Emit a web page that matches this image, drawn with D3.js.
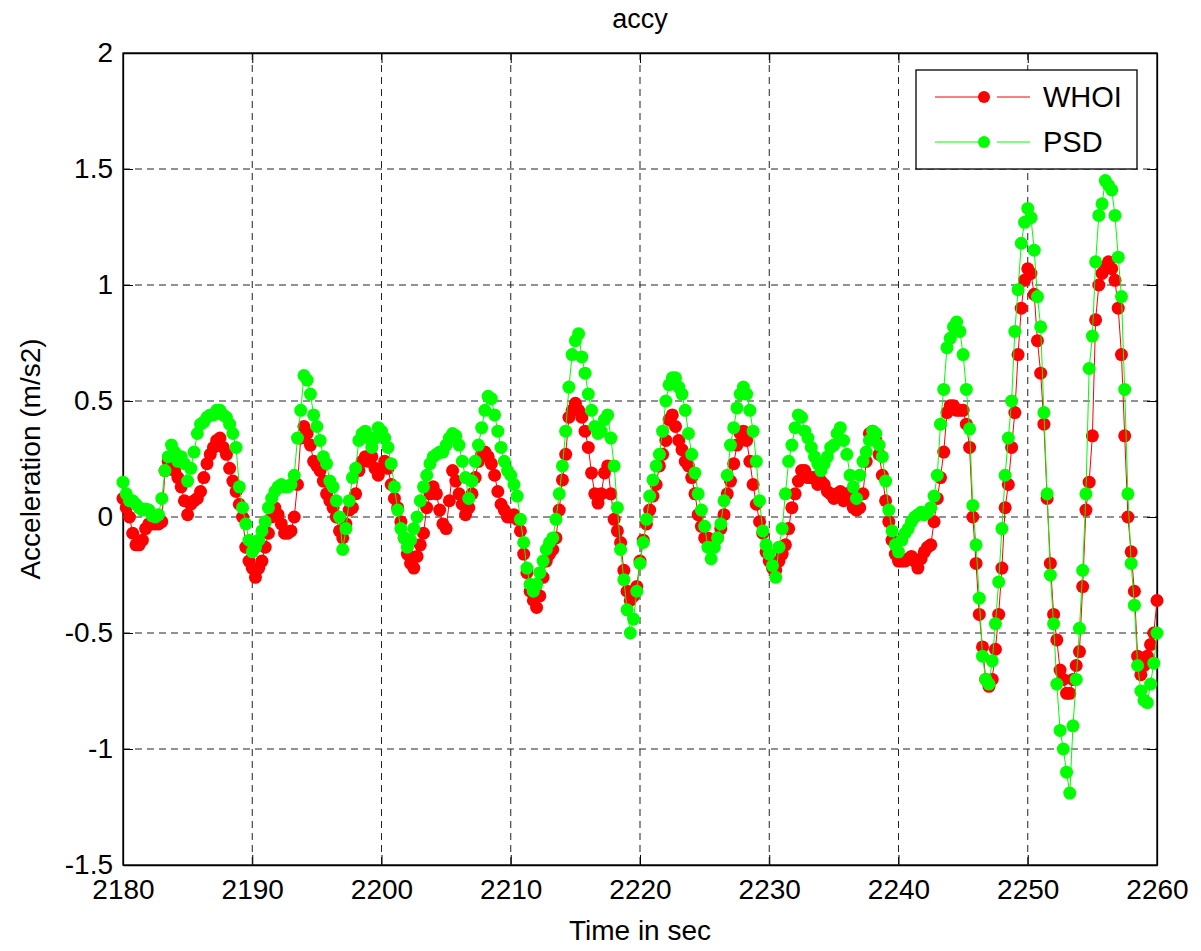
<!DOCTYPE html>
<html lang="en">
<head>
    <meta charset="UTF-8">
    <title>accy</title>
    <script src="https://d3js.org/d3.v7.min.js"></script>
    <style>
        body { margin: 0; background: #fff; }
        text { font-family: "Liberation Sans", Arial, sans-serif; fill: #000; }
    </style>
</head>
<body>
    <script>
        // one sample every 0.25 s from 2180 to 2260
        var times = d3.range(2180, 2260.001, 0.25);

        // WHOI (red) readings, 4 seconds per row
        var whoi = [
            0.08, 0.04, 0.00, -0.07, -0.12, -0.12, -0.10, -0.05, -0.03, -0.03, -0.03, -0.03, -0.02, 0.20, 0.24, 0.23,        // 2180
            0.20, 0.17, 0.13, 0.07, 0.01, 0.055, 0.07, 0.08, 0.11, 0.17, 0.23, 0.27, 0.30, 0.33, 0.34, 0.30,                // 2184
            0.27, 0.21, 0.155, 0.11, 0.055, 0.00, -0.13, -0.19, -0.22, -0.26, -0.22, -0.19, -0.13, -0.07, 0.00, 0.04,        // 2188
            0.01, -0.03, -0.07, -0.07, -0.06, 0.00, 0.14, 0.34, 0.39, 0.36, 0.31, 0.24, 0.22, 0.20, 0.155, 0.10,            // 2192
            0.07, 0.04, 0.00, -0.06, -0.09, -0.03, 0.03, 0.04, 0.10, 0.20, 0.24, 0.26, 0.24, 0.26, 0.21, 0.18,              // 2196
            0.21, 0.24, 0.21, 0.14, 0.08, 0.04, -0.02, -0.09, -0.16, -0.20, -0.22, -0.17, -0.12, -0.07, 0.04, 0.10,         // 2200
            0.13, 0.10, 0.03, -0.03, -0.05, 0.07, 0.20, 0.155, 0.10, 0.055, 0.01, 0.04, 0.10, 0.17, 0.24, 0.27,             // 2204
            0.28, 0.26, 0.23, 0.18, 0.11, 0.055, 0.03, 0.00, 0.00, 0.01, -0.01, -0.06, -0.16, -0.24, -0.32, -0.36,          // 2208
            -0.39, -0.34, -0.26, -0.19, -0.16, -0.14, -0.09, 0.03, 0.16, 0.27, 0.43, 0.46, 0.49, 0.46, 0.43, 0.37,          // 2212
            0.30, 0.19, 0.10, 0.06, 0.10, 0.19, 0.22, 0.10, -0.01, -0.06, -0.11, -0.23, -0.32, -0.36, -0.34, -0.30,         // 2216
            -0.19, -0.10, -0.03, 0.03, 0.09, 0.14, 0.22, 0.27, 0.33, 0.42, 0.44, 0.39, 0.33, 0.29, 0.24, 0.22,              // 2220
            0.17, 0.10, 0.01, -0.04, -0.09, -0.09, -0.10, -0.10, -0.09, -0.05, 0.01, 0.10, 0.155, 0.23, 0.31, 0.36,         // 2224
            0.37, 0.33, 0.24, 0.14, 0.055, -0.02, -0.07, -0.15, -0.19, -0.22, -0.23, -0.19, -0.16, -0.12, -0.05, 0.04,      // 2228
            0.10, 0.155, 0.20, 0.20, 0.17, 0.17, 0.17, 0.14, 0.155, 0.14, 0.11, 0.10, 0.08, 0.10, 0.11, 0.07,               // 2232
            0.10, 0.07, 0.04, 0.03, 0.04, 0.10, 0.24, 0.36, 0.37, 0.33, 0.27, 0.18, 0.07, -0.02, -0.10, -0.16,              // 2236
            -0.19, -0.19, -0.19, -0.18, -0.17, -0.19, -0.22, -0.18, -0.15, -0.13, -0.12, -0.02, 0.08, 0.17, 0.28, 0.45,     // 2240
            0.48, 0.48, 0.46, 0.46, 0.46, 0.40, 0.30, 0.00, -0.20, -0.42, -0.56, -0.70, -0.73, -0.70, -0.57, -0.42,         // 2244
            -0.22, 0.04, 0.14, 0.30, 0.45, 0.70, 0.90, 1.02, 1.07, 1.05, 0.96, 0.76, 0.62, 0.40, 0.08, -0.20,               // 2248
            -0.42, -0.53, -0.66, -0.70, -0.76, -0.76, -0.70, -0.64, -0.58, -0.30, 0.03, 0.15, 0.35, 0.85, 1.00, 1.05,       // 2252
            1.08, 1.10, 1.07, 1.02, 0.90, 0.70, 0.35, 0.00, -0.15, -0.32, -0.60, -0.68, -0.64, -0.60, -0.55, -0.50,         // 2256
            -0.36                                                                                                           // 2260
        ];

        // PSD (green) readings, 4 seconds per row
        var psd = [
            0.15, 0.10, 0.07, 0.07, 0.055, 0.04, 0.03, 0.035, 0.03, 0.005, 0.00, 0.01, 0.08, 0.20, 0.26, 0.31,             // 2180
            0.28, 0.24, 0.26, 0.23, 0.155, 0.21, 0.28, 0.36, 0.40, 0.41, 0.43, 0.44, 0.44, 0.46, 0.46, 0.44,                // 2184
            0.43, 0.40, 0.36, 0.30, 0.13, 0.04, -0.03, -0.10, -0.15, -0.13, -0.10, -0.06, -0.02, 0.04, 0.08, 0.11,           // 2188
            0.13, 0.14, 0.13, 0.13, 0.14, 0.18, 0.34, 0.46, 0.61, 0.59, 0.53, 0.44, 0.39, 0.33, 0.26, 0.23,                 // 2192
            0.155, 0.13, 0.07, 0.00, -0.14, -0.05, 0.07, 0.17, 0.21, 0.33, 0.36, 0.37, 0.34, 0.30, 0.34, 0.385,             // 2196
            0.37, 0.34, 0.30, 0.23, 0.13, 0.03, -0.05, -0.09, -0.13, -0.10, -0.05, 0.00, 0.07, 0.13, 0.18, 0.23,            // 2200
            0.26, 0.27, 0.28, 0.28, 0.31, 0.34, 0.36, 0.35, 0.31, 0.24, 0.17, 0.08, 0.155, 0.24, 0.31, 0.385,               // 2204
            0.46, 0.52, 0.51, 0.44, 0.37, 0.30, 0.24, 0.20, 0.18, 0.14, 0.09, -0.01, -0.11, -0.22, -0.29, -0.32,            // 2208
            -0.29, -0.24, -0.19, -0.14, -0.11, -0.09, -0.01, 0.10, 0.22, 0.37, 0.56, 0.70, 0.76, 0.79, 0.69, 0.62,          // 2212
            0.53, 0.46, 0.39, 0.36, 0.37, 0.42, 0.44, 0.34, 0.22, 0.04, -0.14, -0.27, -0.40, -0.50, -0.44, -0.32,           // 2216
            -0.20, -0.11, -0.01, 0.09, 0.16, 0.22, 0.27, 0.37, 0.50, 0.57, 0.60, 0.60, 0.56, 0.53, 0.46, 0.36,              // 2220
            0.27, 0.19, 0.10, 0.03, -0.04, -0.13, -0.18, -0.13, -0.09, -0.03, 0.07, 0.18, 0.31, 0.385, 0.47, 0.53,          // 2224
            0.56, 0.53, 0.46, 0.37, 0.24, 0.07, -0.06, -0.12, -0.16, -0.21, -0.26, -0.13, -0.05, 0.10, 0.24, 0.31,          // 2228
            0.385, 0.44, 0.43, 0.37, 0.34, 0.30, 0.26, 0.23, 0.20, 0.23, 0.26, 0.30, 0.31, 0.36, 0.385, 0.33,               // 2232
            0.27, 0.18, 0.13, 0.08, 0.18, 0.24, 0.28, 0.33, 0.37, 0.36, 0.31, 0.26, 0.155, 0.03, -0.06, -0.12,              // 2236
            -0.15, -0.10, -0.07, -0.05, -0.02, 0.00, 0.01, 0.02, 0.01, 0.02, 0.04, 0.09, 0.18, 0.40, 0.55, 0.73,            // 2240
            0.77, 0.82, 0.84, 0.80, 0.70, 0.55, 0.38, 0.05, -0.12, -0.35, -0.60, -0.70, -0.72, -0.62, -0.46, -0.28,         // 2244
            -0.05, 0.18, 0.34, 0.50, 0.80, 0.98, 1.18, 1.27, 1.33, 1.29, 1.15, 0.95, 0.82, 0.45, 0.10, -0.25,               // 2248
            -0.46, -0.72, -0.92, -1.00, -1.10, -1.19, -0.90, -0.70, -0.48, -0.23, 0.10, 0.64, 0.78, 1.10, 1.30, 1.35,       // 2252
            1.45, 1.43, 1.41, 1.30, 1.12, 0.95, 0.55, 0.10, -0.20, -0.38, -0.64, -0.75, -0.79, -0.80, -0.72, -0.63,         // 2256
            -0.50                                                                                                           // 2260
        ];

        var xTicks = [2180, 2190, 2200, 2210, 2220, 2230, 2240, 2250, 2260];
        var yTicks = [-1.5, -1, -0.5, 0, 0.5, 1, 1.5, 2];

        var width = 1201;
        var height = 951;
        var plotLeft = 123, plotRight = 1157, plotTop = 53, plotBottom = 865;

        var svg = d3.select('body').append('svg')
            .attr('width', width)
            .attr('height', height);

        var x = d3.scaleLinear().domain([2180, 2260]).range([plotLeft, plotRight]);
        var y = d3.scaleLinear().domain([-1.5, 2]).range([plotBottom, plotTop]);

        // dashed grid
        svg.append('g').selectAll('line')
            .data(xTicks.slice(1, -1))
            .enter().append('line')
            .attr('x1', function (d) { return x(d); })
            .attr('x2', function (d) { return x(d); })
            .attr('y1', plotTop).attr('y2', plotBottom)
            .attr('stroke', '#222').attr('stroke-width', 1)
            .attr('stroke-dasharray', '7,5');
        svg.append('g').selectAll('line')
            .data(yTicks.slice(1, -1))
            .enter().append('line')
            .attr('y1', function (d) { return y(d); })
            .attr('y2', function (d) { return y(d); })
            .attr('x1', plotLeft).attr('x2', plotRight)
            .attr('stroke', '#222').attr('stroke-width', 1)
            .attr('stroke-dasharray', '7,5');

        // axes: ticks point inward, matlab style
        svg.append('g')
            .attr('transform', 'translate(0,' + plotBottom + ')')
            .call(d3.axisBottom(x).tickValues(xTicks).tickSizeInner(-10).tickSizeOuter(0)
                .tickPadding(14).tickFormat(d3.format('d')));
        svg.append('g')
            .attr('transform', 'translate(0,' + plotTop + ')')
            .call(d3.axisTop(x).tickValues(xTicks).tickSizeInner(-10).tickSizeOuter(0).tickFormat(''));
        svg.append('g')
            .attr('transform', 'translate(' + plotLeft + ',0)')
            .call(d3.axisLeft(y).tickValues(yTicks).tickSizeInner(-10).tickSizeOuter(0)
                .tickPadding(10).tickFormat(function (d) { return String(d); }));
        svg.append('g')
            .attr('transform', 'translate(' + plotRight + ',0)')
            .call(d3.axisRight(y).tickValues(yTicks).tickSizeInner(-10).tickSizeOuter(0).tickFormat(''));

        svg.selectAll('.domain').attr('stroke', '#000').attr('stroke-width', 1.3);
        svg.selectAll('.tick line').attr('stroke', '#000');
        svg.selectAll('.tick text')
            .attr('font-size', 28)
            .attr('font-family', '"Liberation Sans", Arial, sans-serif');

        // box
        svg.append('rect')
            .attr('x', plotLeft).attr('y', plotTop)
            .attr('width', plotRight - plotLeft).attr('height', plotBottom - plotTop)
            .attr('fill', 'none').attr('stroke', '#000').attr('stroke-width', 1.3);

        function draw_series(values, color) {
            var data = times.map(function (t, i) { return [t, values[i]]; });
            var line = d3.line()
                .x(function (d) { return x(d[0]); })
                .y(function (d) { return y(d[1]); });
            svg.append('path')
                .datum(data)
                .attr('d', line)
                .attr('fill', 'none')
                .attr('stroke', color)
                .attr('stroke-width', 1);
            svg.append('g').selectAll('circle')
                .data(data)
                .enter().append('circle')
                .attr('cx', function (d) { return x(d[0]); })
                .attr('cy', function (d) { return y(d[1]); })
                .attr('r', 6.5)
                .attr('fill', color);
        }
        draw_series(whoi, '#ff0000');
        draw_series(psd, '#00ff00');

        // labels
        svg.append('text')
            .attr('x', (plotLeft + plotRight) / 2).attr('y', 28)
            .attr('text-anchor', 'middle').attr('font-size', 27)
            .text('accy');
        svg.append('text')
            .attr('x', (plotLeft + plotRight) / 2).attr('y', 940)
            .attr('text-anchor', 'middle').attr('font-size', 28)
            .text('Time in sec');
        svg.append('text')
            .attr('transform', 'translate(40,' + ((plotTop + plotBottom) / 2) + ') rotate(-90)')
            .attr('text-anchor', 'middle').attr('font-size', 28)
            .text('Acceleration (m/s2)');

        // legend
        var legend = [['WHOI', '#ff0000'], ['PSD', '#00ff00']];
        var lg = svg.append('g');
        lg.append('rect')
            .attr('x', 916).attr('y', 70)
            .attr('width', 221).attr('height', 99)
            .attr('fill', '#fff').attr('stroke', '#000').attr('stroke-width', 1.3);
        var rows = lg.selectAll('g')
            .data(legend)
            .enter().append('g')
            .attr('transform', function (d, i) { return 'translate(0,' + (97 + i * 45) + ')'; });
        rows.append('line')
            .attr('x1', 935).attr('x2', 984).attr('y1', 0).attr('y2', 0)
            .attr('stroke', function (d) { return d[1]; });
        rows.append('line')
            .attr('x1', 997).attr('x2', 1030).attr('y1', 0).attr('y2', 0)
            .attr('stroke', function (d) { return d[1]; });
        rows.append('circle')
            .attr('cx', 984).attr('cy', 0).attr('r', 6)
            .attr('fill', function (d) { return d[1]; });
        rows.append('text')
            .attr('x', 1043).attr('y', 0).attr('dy', '0.36em')
            .attr('font-size', 29)
            .text(function (d) { return d[0]; });
    </script>
</body>
</html>
